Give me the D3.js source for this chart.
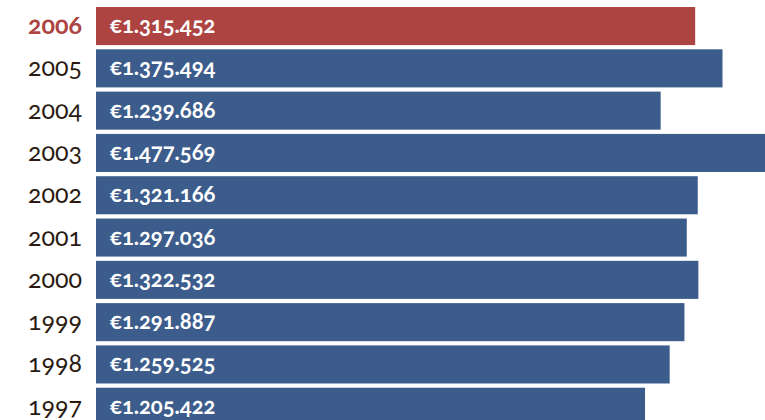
<!DOCTYPE html>
<html>
<head>
<meta charset="utf-8">
<script src="https://d3js.org/d3.v7.min.js"></script>
<style>body { margin: 0; background: #fff; }</style>
</head>
<body>
<script>
// data
var years = ["2006", "2005", "2004", "2003", "2002", "2001", "2000", "1999", "1998", "1997"];
var values = [1315452, 1375494, 1239686, 1477569, 1321166, 1297036, 1322532, 1291887, 1259525, 1205422];
var highlight = "2006";

var width = 765, height = 420;

var svg = d3.select("body").append("svg")
  .attr("width", width)
  .attr("height", height);

var x = d3.scaleLinear()
  .domain([0, 1477569])
  .range([96, 769]);

var y = d3.scaleBand()
  .domain(years)
  .range([4.9, 427.9])
  .paddingInner(0.1)
  .paddingOuter(0.05);

var nl = d3.formatLocale({decimal: ",", thousands: ".", grouping: [3], currency: ["€", ""]});
var fmt = nl.format("$,");

var rows = years.map(function(d, i) { return {year: d, value: values[i]}; });

svg.selectAll("rect.bar")
  .data(rows)
  .enter().append("rect")
  .attr("class", "bar")
  .attr("x", x(0))
  .attr("y", function(d) { return y(d.year); })
  .attr("width", function(d) { return x(d.value) - x(0); })
  .attr("height", y.bandwidth())
  .attr("fill", function(d) { return d.year == highlight ? "#ad4442" : "#3c5c8b"; });

// year labels, old-style figures
rows.forEach(function(d) {
  var t = svg.append("text")
    .attr("x", 82)
    .attr("y", y(d.year) + 27)
    .attr("text-anchor", "end")
    .style("font-family", "Lato")
    .style("font-size", "25px")
    .style("font-variant-numeric", "oldstyle-nums")
    .style("font-feature-settings", "'onum' 1")
    .style("fill", d.year == highlight ? "#ad4442" : "#2a1a12")
    .text(d.year);
  if (d.year == highlight) t.style("font-weight", "bold");
});

// value labels
rows.forEach(function(d) {
  svg.append("text")
    .attr("x", 110)
    .attr("y", y(d.year) + 26)
    .style("font-family", "Lato")
    .style("font-size", "22px")
    .style("font-weight", "bold")
    .style("font-variant-numeric", "oldstyle-nums")
    .style("font-feature-settings", "'onum' 1")
    .style("fill", "#fff")
    .text(fmt(d.value));
});
</script>
</body>
</html>
